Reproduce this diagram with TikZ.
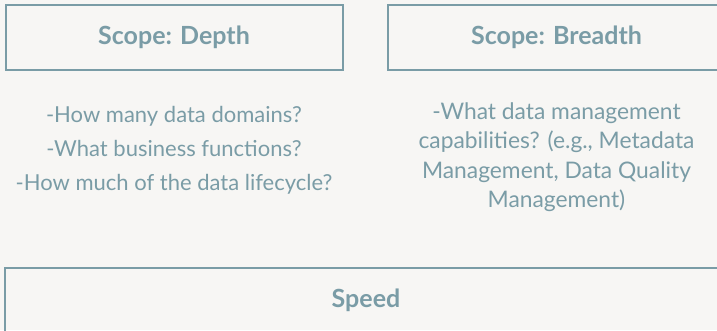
\documentclass[tikz,border=0pt]{standalone}
\usepackage{fontspec}
\setmainfont{Lato}
\usetikzlibrary{positioning}
\definecolor{slate}{RGB}{122,156,166}
\definecolor{paper}{RGB}{247,246,244}

\begin{document}
\begin{tikzpicture}[x=1pt,y=-1pt,
    scopebox/.style={draw=slate,line width=2pt,minimum width=337pt,minimum height=65pt,
      inner sep=0pt,text=slate,font=\fontsize{25}{30}\selectfont\bfseries},
    question/.style={text=slate,align=center,inner sep=0pt}]
  \fill[paper] (0,0) rectangle (717,330);
  \useasboundingbox (0,0) rectangle (717,330);
  \node[scopebox] (depth) at (174,37) {Scope: Depth};
  \node[scopebox] (breadth) at (556.5,37) {Scope: Breadth};
  \node[question,font=\fontsize{22}{34}\selectfont] (depthq) at (174,150)
    {-How many data domains?\\-What business functions?\\-How much of the data lifecycle?};
  \node[question,font=\fontsize{22.8}{29.5}\selectfont] (breadthq) at (556.5,157)
    {-What data management\\capabilities? (e.g., Metadata\\Management, Data Quality\\Management)};
  \node[scopebox,minimum width=723pt] (speed) at (366,300) {Speed};
\end{tikzpicture}
\end{document}
